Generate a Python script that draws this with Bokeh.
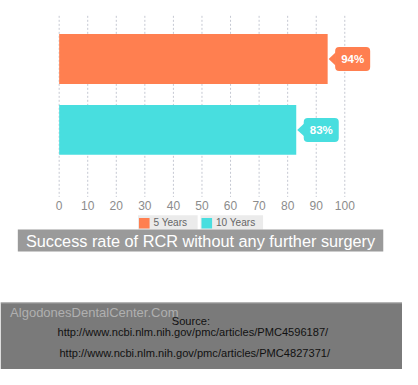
from bokeh.plotting import figure
from bokeh.models import Range1d
from bokeh.embed import file_html
from bokeh.resources import INLINE
from bokeh.core.properties import value

# ---- data ----
series = ["5 Years", "10 Years"]
rates = [94, 83]
colors = ["#FF7F50", "#48DEDF"]
ticks = [0, 10, 20, 30, 40, 50, 60, 70, 80, 90, 100]
tick_labels = [str(t) for t in ticks]
title = "Success rate of RCR without any further surgery"
watermark = "AlgodonesDentalCenter.Com"
source_lines = ["Source:",
                "http://www.ncbi.nlm.nih.gov/pmc/articles/PMC4596187/",
                "http://www.ncbi.nlm.nih.gov/pmc/articles/PMC4827371/"]

# ---- layout (designed on a 418x385 grid, drawn on a 402x369 canvas) ----
RW, RH = 418, 385
W, H = 402, 369
S = W / RW
X0, X100 = 61, 358
k = (X100 - X0) / 100.0
FONT = value("Liberation Sans")


def fs(px):
    return f"{px * S:.1f}px"


p = figure(width=W, height=H, output_backend="svg", toolbar_location=None,
           x_range=Range1d(-X0 / k, (RW - X0) / k), y_range=Range1d(RH, 0),
           x_axis_location=None, y_axis_location=None, min_border=0,
           background_fill_color="white", border_fill_color="white")
p.outline_line_color = None
p.grid.visible = False
p.extra_x_ranges = {"px": Range1d(0, RW)}

# gridlines
p.segment(x0=ticks, x1=ticks, y0=16, y1=205, line_dash="2 2",
          line_color="#c5c8d2", line_width=1)

# bars
bar_y = [61, 135]
p.hbar(y=bar_y, left=0, right=rates, height=52, fill_color=colors,
       line_color=None)

# callouts
xs, ys = [], []
for r, yc in zip(rates, bar_y):
    xs.append([r + 1 / k, r + 8.5 / k, r + 8.5 / k])
    ys.append([yc, yc - 7, yc + 7])
p.patches(xs=xs, ys=ys, fill_color=colors, line_color=None)
p.text(x=rates, y=bar_y, text=[f"{r}%" for r in rates], x_offset=26 * S,
       text_align="center", text_baseline="middle", text_color="white",
       text_font=FONT, text_font_style="bold", text_font_size=fs(12),
       background_fill_color=colors, border_radius=4, padding=6)

# tick labels
p.text(x=ticks, y=[214] * len(ticks), text=tick_labels, text_align="center",
       text_baseline="middle", text_color="#8c8c8c", text_font=FONT,
       text_font_size=fs(12.5))

# legend
p.quad(left=[143, 208], right=[205, 273], top=224, bottom=239,
       fill_color="#ebebeb", line_color=None, x_range_name="px")
p.quad(left=[144, 209], right=[155, 220], top=227, bottom=238,
       fill_color=colors, line_color=None, x_range_name="px")
p.text(x=[159, 224], y=[232, 232], text=series, text_align="left",
       text_baseline="middle", text_color="#666666", text_font=FONT,
       text_font_size=fs(10.5), x_range_name="px")

# title band
p.quad(left=18, right=398, top=239, bottom=262, fill_color="#9a9a9a",
       line_color=None, x_range_name="px")
p.text(x=[208], y=[251], text=[title], text_align="center",
       text_baseline="middle", text_color="white", text_font=FONT,
       text_font_size=fs(17), x_range_name="px")

# footer
p.quad(left=0, right=RW, top=315, bottom=RH, fill_color="#7a7a7a",
       line_color=None, x_range_name="px")
p.segment(x0=0, x1=RW, y0=315.5, y1=315.5, line_color="#b0b0b0",
          x_range_name="px")
p.text(x=[10], y=[326], text=[watermark], text_align="left",
       text_baseline="middle", text_color="#b0b0b0", text_font=FONT,
       text_font_size=fs(13.5), x_range_name="px")
p.text(x=[198, 200, 202], y=[334, 346, 368], text=source_lines,
       text_align="center", text_baseline="middle", text_color="#111111",
       text_font=FONT, text_font_size=fs(11.5), x_range_name="px")

open("out.html", "w").write(file_html(p, INLINE))
